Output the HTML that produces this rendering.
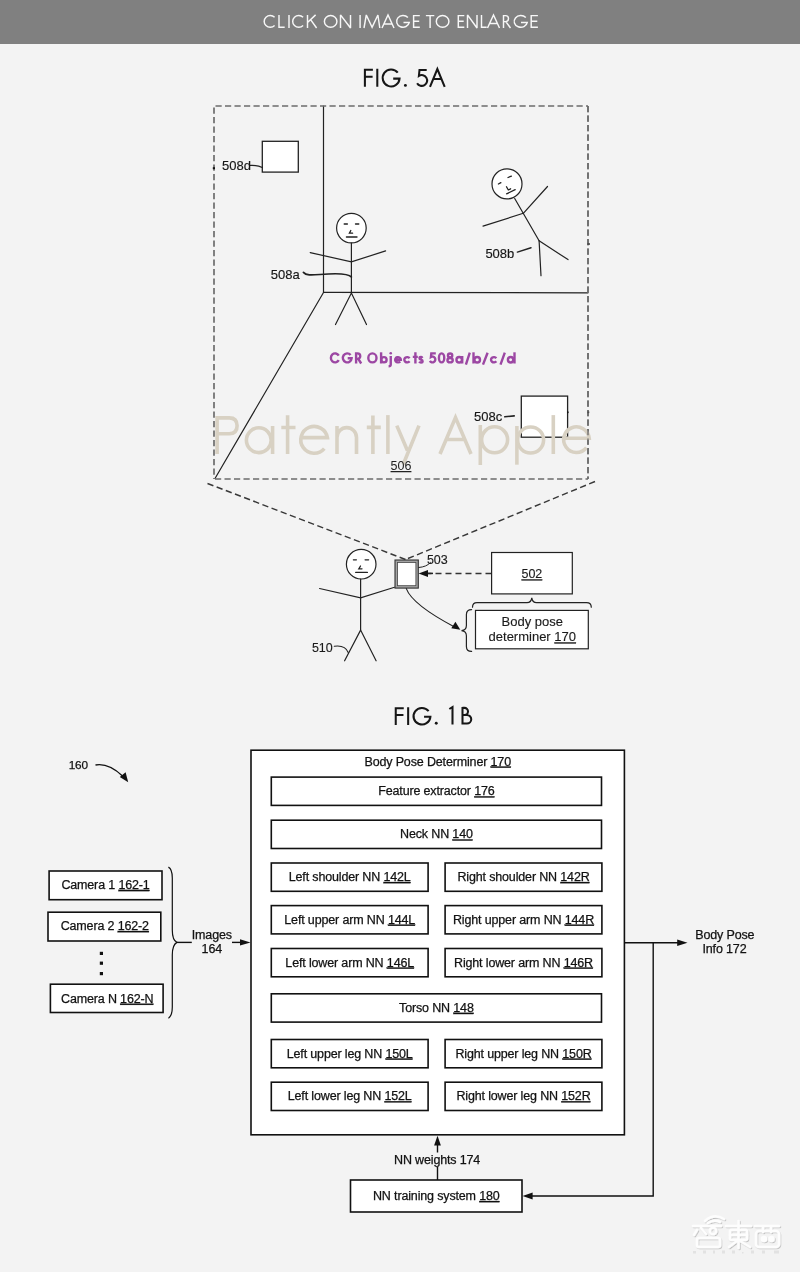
<!DOCTYPE html>
<html><head><meta charset="utf-8"><title>Patent figures</title>
<style>
html,body{margin:0;padding:0;background:#f3f3f3;}
body{width:800px;height:1272px;overflow:hidden;position:relative;font-family:"Liberation Sans",sans-serif;}
svg{position:absolute;left:0;top:0;}
text{font-family:"Liberation Sans",sans-serif;}
.t{stroke:#111;stroke-width:0.25px;paint-order:stroke;}
.aa{will-change:transform;}
</style></head><body>
<svg width="800" height="1272" viewBox="0 0 800 1272" style="will-change:transform">
<rect x="0" y="0" width="800" height="1272" fill="#f3f3f3"/>
<!-- header -->
<rect x="0" y="0" width="800" height="44" fill="#808080"/>
<g fill="none" stroke="#f7f7f7" stroke-width="1.45" stroke-linecap="butt" stroke-miterlimit="2.5">
  <path d="M274.6 17.3 A6.1 5.8 0 1 0 274.6 25.5"/>
  <path d="M279 14.9 V27.3 H284.7"/>
  <path d="M289 14.9 V28"/>
  <path d="M303.1 17.3 A6.1 5.8 0 1 0 303.1 25.5"/>
  <path d="M307.5 14.9 V28 M315.6 14.9 L307.8 22.3 M310.6 19.6 L316.6 28"/>
  <ellipse cx="330.65" cy="21.4" rx="6.25" ry="5.85"/>
  <path d="M340.5 28 V14.9 L350.5 28 V14.9"/>
  <path d="M360.1 14.9 V28"/>
  <path d="M364 28 L366.3 15 L372.1 27.4 L377.9 15 L379.8 28"/>
  <path d="M382 28 L388 14.9 L394 28 M384.3 23.9 H391.7"/>
  <path d="M407.9 17.6 A6.4 5.85 0 1 0 409.3 22.4 H403.5"/>
  <path d="M419.8 15.6 H413.6 V27.3 H419.8 M413.6 21.3 H419.2"/>
  <path d="M425.9 15.6 H434.3 M430.1 15.6 V28"/>
  <ellipse cx="442.6" cy="21.4" rx="6.3" ry="5.85"/>
  <path d="M464.3 15.6 H458.3 V27.3 H464.3 M458.3 21.3 H463.7"/>
  <path d="M467.5 28 V14.9 L477 28 V14.9"/>
  <path d="M481.5 14.9 V27.3 H486.7"/>
  <path d="M487.5 28 L493.5 14.9 L499.5 28 M489.8 23.5 H497.2"/>
  <path d="M503.5 28 V15.6 H505.5 A3 3 0 0 1 505.5 21.6 H503.5 M505.8 21.6 L510.5 28"/>
  <path d="M525.8 17.6 A6.6 5.85 0 1 0 527.3 22.4 H521"/>
  <path d="M537.9 15.6 H531.2 V27.3 H537.9 M531.2 21.3 H537.3"/>
</g>

<!-- FIG 5A -->
<g fill="none" stroke="#161616" stroke-width="2.05" transform="translate(364.9 86.8)">
  <path d="M0 0 V-18 M0 -17 H8 M0 -10 H7.7 M12.4 0 V-18 M32.86 -14.1 A8.45 8.45 0 1 0 34.65 -8.2 H28.3"/>
  <circle cx="40.5" cy="-1.4" r="1.45" fill="#161616" stroke="none"/>
  <path d="M61.8 -16.9 H54.6 L54 -10.9 A5.4 5.4 0 1 1 52.2 -3.6"/>
  <path d="M65.1 0 L72.45 -17.8 L79.8 0 M68.3 -7.8 H76.6"/>
</g>

<g id="fig5a" fill="none" stroke="#222" stroke-width="1.2" stroke-linecap="round">
  <!-- room lines -->
  <line x1="323.5" y1="106" x2="323.5" y2="292.5"/>
  <line x1="323.5" y1="292.3" x2="588" y2="292.8"/>
  <line x1="323.5" y1="292.5" x2="215" y2="478.5"/>
  <!-- dashed frame -->
  <line x1="214" y1="106" x2="588" y2="106" stroke="#6c6c6c" stroke-width="1.7" stroke-dasharray="6.2 3.3" stroke-dashoffset="-1.5" stroke-linecap="butt"/>
  <line x1="214" y1="479" x2="588" y2="479" stroke="#6c6c6c" stroke-width="1.7" stroke-dasharray="6.2 3.3" stroke-dashoffset="-1" stroke-linecap="butt"/>
  <line x1="214" y1="106" x2="214" y2="479" stroke="#6c6c6c" stroke-width="1.7" stroke-dasharray="6.2 3.3" stroke-dashoffset="-1.5" stroke-linecap="butt"/>
  <line x1="588" y1="106" x2="588" y2="479" stroke="#6c6c6c" stroke-width="1.7" stroke-dasharray="6.2 3.3" stroke-dashoffset="0" stroke-linecap="butt"/>
  <!-- projection lines -->
  <line x1="207.5" y1="483.5" x2="405.6" y2="559.5" stroke="#383838" stroke-width="1.45" stroke-dasharray="6.3 3.5" stroke-linecap="butt"/>
  <line x1="595" y1="481.5" x2="405.6" y2="559.5" stroke="#383838" stroke-width="1.45" stroke-dasharray="6.3 3.5" stroke-linecap="butt"/>

  <!-- 508d box -->
  <rect x="262.3" y="141.3" width="36" height="30.8" fill="#fff" stroke="#222" stroke-width="1.3"/>
  <path d="M250.5 165.4 C256 165.2 259 165.6 262.3 167.5" stroke-width="1.4"/>

  <!-- 508a figure -->
  <circle cx="351.4" cy="228.1" r="14.8" fill="#fff"/>
  <line x1="351.4" y1="243" x2="351.4" y2="292.5"/>
  <polyline points="310.2,252.6 351.4,261.9 385.6,250.9"/>
  <polyline points="335.5,324.5 351.4,293 366.5,324.5"/>
  <path d="M303.4 272.4 C306 275.5 311 275.2 320 274.5 C335 273.2 348 273 351.4 277" stroke-width="1.7"/>
  <g stroke-width="1.3">
  <line x1="344.2" y1="224" x2="347.4" y2="224"/>
  <line x1="355.5" y1="224" x2="358.8" y2="224"/>
  <path d="M350.8 230.5 L349.4 233.2 L352.6 233.2"/>
  <line x1="346.4" y1="237" x2="357" y2="237"/>
  </g>

  <!-- 508b figure -->
  <circle cx="507" cy="183.9" r="15" fill="#fff"/>
  <line x1="514.7" y1="198.5" x2="539.1" y2="240.8"/>
  <line x1="483" y1="226.1" x2="523.3" y2="213.3"/>
  <line x1="523.3" y1="213.3" x2="547.5" y2="186.5"/>
  <line x1="539.1" y1="240.8" x2="541" y2="275.7"/>
  <line x1="539.1" y1="240.8" x2="568" y2="259.6"/>
  <line x1="517.4" y1="252.1" x2="531" y2="247.7" stroke-width="1.5"/>
  <g stroke-width="1.3">
  <line x1="498.4" y1="184" x2="500.9" y2="182.7"/>
  <line x1="508" y1="177.5" x2="511.4" y2="176.2"/>
  <path d="M506.5 186.8 L508.3 190 L510.6 188.8"/>
  <line x1="506.6" y1="193.8" x2="515.2" y2="189.7"/>
  </g>

  <!-- 508c box -->
  <rect x="521.3" y="396.1" width="46.3" height="41.1" fill="#fff" stroke="#222" stroke-width="1.3"/>
  <line x1="504.8" y1="416.8" x2="514.2" y2="415.9" stroke-width="1.6"/>
</g>


<!-- small marks on frame -->
<g fill="#111">
  <rect x="212.8" y="167.2" width="2.2" height="2" />
  <rect x="587.4" y="243" width="2.2" height="2" />
  <rect x="587.4" y="411.5" width="1.8" height="1.6" />
  <rect x="567" y="411.5" width="1.6" height="1.6" />
</g>
<!-- 5A labels -->
<g font-size="13" fill="#151515" class="t" style="stroke-width:0.15px">
  <text x="222.1" y="169.5">508d</text>
  <text x="270.8" y="279.4">508a</text>
  <text x="485.4" y="257.5">508b</text>
  <text x="474" y="420.6">508c</text>
</g>

<g fill="none" stroke="#9c47a3" stroke-width="2.4" stroke-linecap="butt">
  <path d="M338.74 355.65 A4.2 4.5 0 1 0 338.74 360.15"/>
  <path d="M350.6 355 A4.4 4.5 0 1 0 351.6 358.3 H347.7"/>
  <path d="M356.1 363.5 V353.4 H357.5 A2.75 2.75 0 0 1 357.5 358.9 H356.1 M358.3 358.9 L361.2 363.5"/>
  <ellipse cx="372.4" cy="357.9" rx="4.1" ry="4.5"/>
  <path d="M381.1 352.3 V363.5"/>
  <circle cx="383.95" cy="359.75" r="2.65"/>
  <path d="M390.75 356 V364.6 Q390.75 366.3 388.6 366.3"/>
  <path d="M395.15 359.75 H400.85 A2.85 2.65 0 1 0 400.2 361.45"/>
  <path d="M409.58 358.23 A2.9 2.65 0 1 0 409.58 361.27"/>
  <path d="M415.4 352.3 V363.5 M412.8 356.9 H417.8"/>
  <path d="M422.5 357.9 C422 357.3 421.5 357.05 420.9 357.05 C420 357.05 419.5 357.6 419.5 358.3 C419.5 359.1 420.3 359.4 421 359.7 C421.8 360 422.6 360.4 422.6 361.2 C422.6 362 421.9 362.5 421 362.5 C420.2 362.5 419.6 362.2 419.2 361.6"/>
  <path d="M435.8 353.4 H431.3 L430.95 357 A2.9 2.9 0 1 1 429.9 360.95"/>
  <ellipse cx="441.6" cy="357.9" rx="2.65" ry="4.5"/>
  <ellipse cx="450.1" cy="355.4" rx="2.15" ry="1.95"/>
  <ellipse cx="450.1" cy="360.2" rx="2.65" ry="2.2"/>
  <circle cx="459.2" cy="359.75" r="2.75"/>
  <path d="M462.2 356 V363.5"/>
  <path d="M465.9 364.6 L469.8 352.7 M483 364.6 L487.6 352.7 M500.5 364.6 L504.8 352.7"/>
  <path d="M473.5 352.3 V363.5"/>
  <circle cx="477.2" cy="359.75" r="2.8"/>
  <path d="M496.3 358.23 A2.9 2.65 0 1 0 496.3 361.27"/>
  <path d="M514.5 352.3 V363.5"/>
  <circle cx="510.6" cy="359.75" r="2.7"/>
</g>
<circle cx="390.75" cy="353.3" r="1.3" fill="#9c47a3"/>

<!-- watermark -->
<g fill="none" stroke="#d8d1c3" stroke-width="3.6" stroke-linecap="butt">
  <path d="M217.1 454 V417.9 H229.3 C234.6 417.9 237.1 420.6 237.1 425.85 C237.1 431.1 234.6 433.8 229.3 433.8 H217.1"/>
  <circle cx="258.8" cy="440.2" r="12.4"/>
  <path d="M272.6 426 V454"/>
  <path d="M287.6 415.2 V454 M281.3 427.5 H295.5"/>
  <path d="M300.2 437.6 H327.4 A13.4 13.4 0 1 0 324.3 448.6"/>
  <path d="M337 426 V454 M337 437.4 A9.75 9.75 0 0 1 356.5 437.4 V454"/>
  <path d="M372.9 415.5 V454 M366.8 427.4 H380.8"/>
  <path d="M387.9 415.1 V454"/>
  <path d="M396.8 425.6 L407.4 450.5 M419 425.6 L403.2 464.5"/>
  <path d="M440 454 L455.5 417.5 L471 454 M446.2 439.5 H464.8"/>
  <path d="M480.3 425 V465"/>
  <circle cx="494.6" cy="439.8" r="13"/>
  <path d="M516.9 426 V464.7"/>
  <circle cx="530.6" cy="440" r="13"/>
  <path d="M553.3 415.1 V454"/>
  <path d="M563.7 438.2 H589.2 A12.8 12.8 0 1 0 586.5 447.6"/>
</g>
<line x1="588" y1="106" x2="588" y2="479" stroke="#6c6c6c" stroke-width="1.7" stroke-dasharray="6.2 3.3" stroke-dashoffset="0" stroke-linecap="butt" stroke-opacity="0.8"/>

<text x="401" y="470" font-size="12.5" fill="#222" text-anchor="middle" text-decoration="underline">506</text>

<!-- bottom of 5A: user 510, device 503, 502, 170 -->
<g fill="none" stroke="#222" stroke-width="1.2" stroke-linecap="round">
  <circle cx="361.2" cy="564.2" r="14.8" fill="#fff"/>
  <line x1="360.6" y1="579.2" x2="360.6" y2="630.1"/>
  <polyline points="319.6,588.5 360.6,597.8 394.5,587.3"/>
  <polyline points="344.6,660.8 360.6,630.1 376.1,660.8"/>
  <path d="M334.3 646.3 C340 645.5 346 647 348.2 652.5" stroke-width="1.1"/>
  <g stroke-width="1.3">
  <line x1="353.4" y1="559.8" x2="356.4" y2="559.8"/>
  <line x1="365.1" y1="559.8" x2="368.6" y2="559.8"/>
  <path d="M360.5 566 L358.8 568.8 L362 568.8"/>
  <line x1="355.7" y1="572.4" x2="367.4" y2="572.4"/>
  </g>
  <!-- device -->
  <rect x="395" y="560" width="23.3" height="28.1" fill="#a3a3a3" stroke="#333" stroke-width="1.1"/>
  <rect x="397.5" y="562.4" width="18.4" height="23.3" fill="#fff" stroke="#444" stroke-width="0.8"/>
  <path d="M418.8 567.5 C424 567 428 565.5 430.5 562.5" stroke-width="1"/>
  <!-- dashed arrow from 502 -->
  <line x1="491.5" y1="573.4" x2="427.5" y2="573.4" stroke="#333" stroke-width="1.5" stroke-dasharray="6 4" stroke-linecap="butt"/>
  <line x1="427.5" y1="573.4" x2="433" y2="573.4" stroke="#222" stroke-width="1.5" stroke-linecap="butt"/>
  <polygon points="418.6,573.4 428,569.9 428,576.9" fill="#111" stroke="none"/>
  <!-- 502 box -->
  <rect x="491.6" y="552.5" width="80.7" height="41.4" fill="#fff" stroke="#222" stroke-width="1.2"/>
  <!-- brace over 170 -->
  <path d="M472.5 607.2 C472.5 603.5 474 602.6 477 602.6 L527 602.6 C530 602.6 531.5 601 531.8 597.9 C532.1 601 533.6 602.6 536.6 602.6 L586.5 602.6 C589.5 602.6 591.3 603.5 591.3 607.2" stroke-width="1.2"/>
  <!-- box 170 -->
  <rect x="475.5" y="610.4" width="112.8" height="38.4" fill="#fff" stroke="#222" stroke-width="1.2"/>
  <!-- left brace -->
  <path d="M471.6 609.6 C468 609.6 466.4 611 466.4 614.5 L466.4 625.5 C466.4 628.6 465 630.3 461.5 630.6 C465 630.9 466.4 632.6 466.4 635.8 L466.4 646.5 C466.4 650 468 651.4 471.6 651.4" stroke-width="1.2"/>
  <!-- curved arrow -->
  <path d="M406.3 588.6 C411 601 430 614 455 627.2" stroke-width="1.1"/>
  <polygon points="460.3,629.8 451.3,628.3 455.4,621.8" fill="#111" stroke="none"/>
</g>
<g font-size="12.5" fill="#1a1a1a" class="t" style="stroke-width:0.12px">
  <text x="311.9" y="651.5">510</text>
  <text x="426.9" y="563.5">503</text>
  <text x="531.9" y="578.3" text-anchor="middle" text-decoration="underline">502</text>
  <text x="532.3" y="626" text-anchor="middle" font-size="13">Body pose</text>
  <text x="532.3" y="641.3" text-anchor="middle" font-size="13">determiner <tspan text-decoration="underline">170</tspan></text>
</g>

<!-- FIG 1B -->
<g fill="none" stroke="#161616" stroke-width="2.05" transform="translate(395.75 724.6)">
  <path d="M0 0 V-18 M0 -17 H8 M0 -10 H7.7 M12.4 0 V-18 M32.86 -14.1 A8.45 8.45 0 1 0 34.65 -8.2 H28.3" transform="translate(0 0.3) scale(1 0.98)"/>
  <circle cx="40.5" cy="-1.4" r="1.45" fill="#161616" stroke="none"/>
  <path d="M53.6 -15.6 L56.75 -17.6 V0"/>
  <path d="M66.75 0 V-17.6 M66.75 -16.7 H68.7 A3.55 3.55 0 0 1 68.7 -9.6 H66.75 M68.7 -9.6 H71.2 A4.3 4.3 0 0 1 71.2 -1 H66.75"/>
</g>

<g fill="#fff" stroke="#111" stroke-width="1.6">
  <rect x="251" y="750.2" width="373.4" height="384.6"/>
  <rect x="271.3" y="777.1" width="330.2" height="28.3"/>
  <rect x="271.3" y="820.2" width="330.2" height="28.3"/>
  <rect x="271.3" y="863" width="156.8" height="28.3"/>
  <rect x="445.1" y="863" width="156.8" height="28.3"/>
  <rect x="271.3" y="905.6" width="156.8" height="28.3"/>
  <rect x="445.1" y="905.6" width="156.8" height="28.3"/>
  <rect x="271.3" y="948.5" width="156.8" height="28.3"/>
  <rect x="445.1" y="948.5" width="156.8" height="28.3"/>
  <rect x="271.3" y="993.8" width="330.2" height="28.3"/>
  <rect x="271.3" y="1039.5" width="156.8" height="28.3"/>
  <rect x="445.1" y="1039.5" width="156.8" height="28.3"/>
  <rect x="271.3" y="1082.2" width="156.8" height="28.3"/>
  <rect x="445.1" y="1082.2" width="156.8" height="28.3"/>
  <!-- cameras -->
  <rect x="49.1" y="871" width="112.9" height="28.7"/>
  <rect x="48" y="912.2" width="112.8" height="28.8"/>
  <rect x="50.4" y="984.2" width="112.7" height="28.3"/>
  <!-- training -->
  <rect x="350.5" y="1180" width="171.5" height="32"/>
</g>
<g fill="none" stroke="#111" stroke-width="1.4">
  <!-- camera brace -->
  <path d="M168.4 867.1 C171 868.5 172.3 872 172.3 878 L172.3 930 C172.3 937 174 941 176.9 942.4 C174 944 172.3 948 172.3 955 L172.3 1007 C172.3 1013 171 1016.5 168.4 1018.2" stroke-width="1.2"/>
  <line x1="176.9" y1="942.4" x2="191.8" y2="942.4"/>
  <line x1="232" y1="942.4" x2="241" y2="942.4"/>
  <!-- output -->
  <line x1="624.4" y1="942.7" x2="678" y2="942.7"/>
  <polyline points="653.2,942.7 653.2,1196 532,1196"/>
  <!-- weights -->
  <line x1="437.5" y1="1145" x2="437.5" y2="1152.5"/>
  <line x1="437.5" y1="1167" x2="437.5" y2="1180"/>
  <!-- 160 arrow -->
  <path d="M95.5 765 C104 763.5 113 767 122.5 776"/>
</g>
<g fill="#111" stroke="none">
  <polygon points="250.5,942.4 240,939.2 240,945.6"/>
  <polygon points="687.5,942.7 677.2,939.4 677.2,946"/>
  <polygon points="522.6,1196 532.6,1192.6 532.6,1199.4"/>
  <polygon points="437.5,1135.8 434.1,1145.5 440.9,1145.5"/>
  <polygon points="128.2,782.2 119.8,776.9 125.6,772.2"/>
  <rect x="99.8" y="951.8" width="3.2" height="3.2"/>
  <rect x="99.8" y="961.6" width="3.2" height="3.2"/>
  <rect x="99.8" y="972" width="3.2" height="3.2"/>
</g>

<g font-size="12.5" fill="#111" text-anchor="middle" class="t" letter-spacing="-0.15">
  <text x="437.7" y="765.5">Body Pose Determiner <tspan text-decoration="underline">170</tspan></text>
  <text x="436.4" y="795.3">Feature extractor <tspan text-decoration="underline">176</tspan></text>
  <text x="436.4" y="838.4">Neck NN <tspan text-decoration="underline">140</tspan></text>
  <text x="349.7" y="881">Left shoulder NN <tspan text-decoration="underline">142L</tspan></text>
  <text x="523.5" y="881">Right shoulder NN <tspan text-decoration="underline">142R</tspan></text>
  <text x="349.7" y="923.6">Left upper arm NN <tspan text-decoration="underline">144L</tspan></text>
  <text x="523.5" y="923.6">Right upper arm NN <tspan text-decoration="underline">144R</tspan></text>
  <text x="349.7" y="966.5">Left lower arm NN <tspan text-decoration="underline">146L</tspan></text>
  <text x="523.5" y="966.5">Right lower arm NN <tspan text-decoration="underline">146R</tspan></text>
  <text x="436.4" y="1011.8">Torso NN <tspan text-decoration="underline">148</tspan></text>
  <text x="349.7" y="1057.5">Left upper leg NN <tspan text-decoration="underline">150L</tspan></text>
  <text x="523.5" y="1057.5">Right upper leg NN <tspan text-decoration="underline">150R</tspan></text>
  <text x="349.7" y="1100.2">Left lower leg NN <tspan text-decoration="underline">152L</tspan></text>
  <text x="523.5" y="1100.2">Right lower leg NN <tspan text-decoration="underline">152R</tspan></text>
  <text x="105.5" y="888.9">Camera 1 <tspan text-decoration="underline">162-1</tspan></text>
  <text x="104.8" y="930">Camera 2 <tspan text-decoration="underline">162-2</tspan></text>
  <text x="107.2" y="1002.7">Camera N <tspan text-decoration="underline">162-N</tspan></text>
  <text x="211.8" y="938.9">Images</text>
  <text x="211.8" y="953.4">164</text>
  <text x="724.8" y="939.3">Body Pose</text>
  <text x="724.5" y="953.4">Info 172</text>
  <text x="437.1" y="1163.8">NN weights 174</text>
  <text x="436.3" y="1200">NN training system <tspan text-decoration="underline">180</tspan></text>
  <text x="78.3" y="768.5" font-size="11.8">160</text>
</g>
<!-- zhidx watermark -->
<defs><filter id="sh" x="-20%" y="-20%" width="140%" height="140%"><feDropShadow dx="0.8" dy="1" stdDeviation="0.7" flood-color="#000" flood-opacity="0.22"/></filter></defs>
<g fill="none" stroke="#fdfdfd" stroke-width="2.6" stroke-linecap="round" filter="url(#sh)">
  <path d="M705 1221 Q714 1213 724 1219"/>
  <path d="M708 1223 Q714 1219 720 1222"/>
  <path d="M693 1226 H721 M697 1230 L694 1235 M701 1228 L706 1234"/>
  <circle cx="713" cy="1231" r="3.2"/>
  <rect x="697" y="1238" width="23" height="9" rx="2"/>
  <path d="M726 1226 H751 M738.5 1221 V1248"/>
  <rect x="730" y="1230" width="17" height="10" rx="1.5"/>
  <path d="M730 1235 H747 M737 1241 L729 1247 M740 1241 L750 1247"/>
  <path d="M755 1226 H779 M763 1226 V1232 M771 1226 V1232"/>
  <rect x="756" y="1231" width="23" height="16" rx="3"/>
  <circle cx="764" cy="1239" r="2" fill="#fdfdfd"/>
  <circle cx="771.5" cy="1239" r="2" fill="#fdfdfd"/>
</g>
<g fill="#e2e2e2">
  <rect x="693" y="1251" width="3" height="2.5"/><rect x="703" y="1250.5" width="3" height="3"/><rect x="713" y="1250.5" width="2" height="3"/>
  <rect x="722" y="1250.5" width="3" height="3"/><rect x="732" y="1250.5" width="3" height="3"/><rect x="742" y="1252" width="1.5" height="1.5"/>
  <rect x="751" y="1250.5" width="3" height="3"/><rect x="762" y="1250.5" width="3" height="3"/><rect x="774" y="1250.5" width="5" height="3"/>
</g>

</svg>
</body></html>
